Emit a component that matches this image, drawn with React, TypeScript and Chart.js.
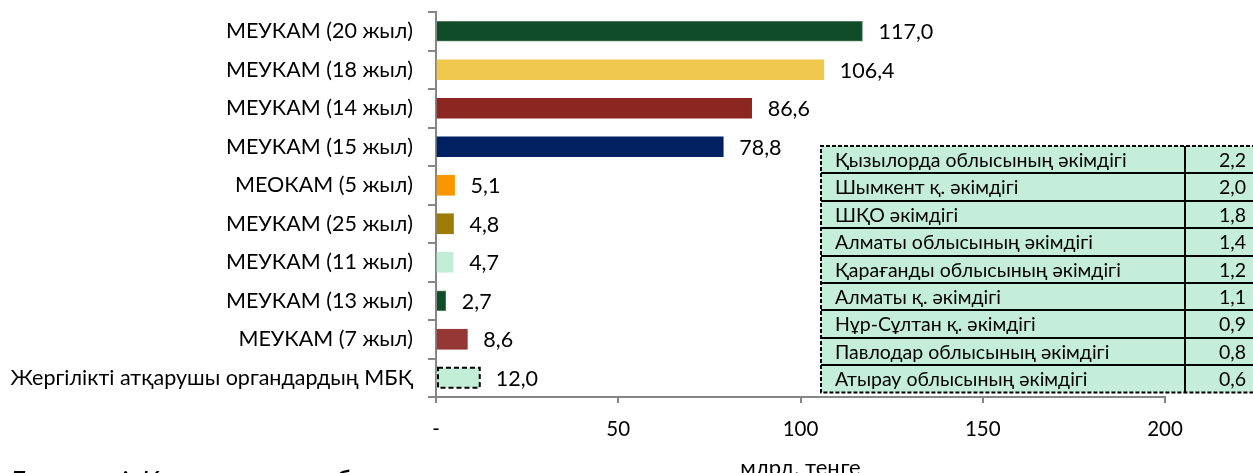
import { useEffect, useRef } from "react";
import { Chart, registerables } from "chart.js";

Chart.register(...registerables);

// Placement volumes by instrument, bln tenge
const categories = [
  "МЕУКАМ (20 жыл)",
  "МЕУКАМ (18 жыл)",
  "МЕУКАМ (14 жыл)",
  "МЕУКАМ (15 жыл)",
  "МЕОКАМ (5 жыл)",
  "МЕУКАМ (25 жыл)",
  "МЕУКАМ (11 жыл)",
  "МЕУКАМ (13 жыл)",
  "МЕУКАМ (7 жыл)",
  "Жергілікті атқарушы органдардың МБҚ",
];
const volumes = [117.0, 106.4, 86.6, 78.8, 5.1, 4.8, 4.7, 2.7, 8.6, 12.0];
const barColors = [
  "#0f4c27",
  "#f0c84e",
  "#8b2621",
  "#00205f",
  "#f99600",
  "#9c7b06",
  "#c2eed8",
  "#0f4c27",
  "#953735",
  "#c2eed8",
];
// the local-authority bar is broken down in the inset table
const dashedBarIndex = 9;

const xTickValues = [0, 50, 100, 150, 200];
const xTickLabels = ["-", "50", "100", "150", "200"];
const axisTitle = "млрд. теңге";
const sourceNote = "Дереккөзі: Қазақстан қор биржасы";

// Breakdown of local executive bodies' bonds
const issuerNames = [
  "Қызылорда облысының әкімдігі",
  "Шымкент қ. әкімдігі",
  "ШҚО әкімдігі",
  "Алматы облысының әкімдігі",
  "Қарағанды облысының әкімдігі",
  "Алматы қ. әкімдігі",
  "Нұр-Сұлтан қ. әкімдігі",
  "Павлодар облысының әкімдігі",
  "Атырау облысының әкімдігі",
];
const issuerValues = [2.2, 2.0, 1.8, 1.4, 1.2, 1.1, 0.9, 0.8, 0.6];

const FONT = "Lato, 'Noto Sans', sans-serif";
const fmt = (v: number) => v.toFixed(1).replace(".", ",");

const overlayPlugin = {
  id: "overlay",
  afterDatasetsDraw(chart: any) {
    const ctx = chart.ctx as CanvasRenderingContext2D;
    const meta = chart.getDatasetMeta(0);
    ctx.save();
    meta.data.forEach((el: any, i: number) => {
      const { x, y, base, height } = el.getProps(["x", "y", "base", "height"], true);
      if (i === dashedBarIndex) {
        ctx.setLineDash([5, 3]);
        ctx.lineWidth = 2;
        ctx.strokeStyle = "#000";
        ctx.strokeRect(base + 1, y - height / 2, x - base - 1, height);
        ctx.setLineDash([]);
      }
      ctx.fillStyle = "#000";
      ctx.font = `21.5px ${FONT}`;
      ctx.textAlign = "left";
      ctx.textBaseline = "middle";
      ctx.fillText(fmt(volumes[i]), x + 16, y + 1);
    });
    ctx.restore();
  },
  afterDraw(chart: any) {
    const ctx = chart.ctx as CanvasRenderingContext2D;
    ctx.save();

    // inset table
    const tx = 821;
    const ty = 146;
    const rowH = 27.4;
    const colX = 1185;
    const tRight = 1262;
    const tBottom = ty + rowH * issuerNames.length;
    ctx.fillStyle = "#c4eed9";
    ctx.fillRect(tx, ty, tRight - tx, tBottom - ty);

    ctx.strokeStyle = "#000";
    ctx.lineWidth = 2;
    ctx.beginPath();
    for (let i = 1; i < issuerNames.length; i++) {
      const yy = Math.round(ty + i * rowH);
      ctx.moveTo(tx, yy);
      ctx.lineTo(tRight, yy);
    }
    ctx.moveTo(colX, ty);
    ctx.lineTo(colX, tBottom);
    ctx.stroke();

    ctx.setLineDash([4, 2]);
    ctx.beginPath();
    ctx.moveTo(tRight, ty);
    ctx.lineTo(tx, ty);
    ctx.lineTo(tx, tBottom);
    ctx.lineTo(tRight, tBottom);
    ctx.stroke();
    ctx.setLineDash([]);

    ctx.fillStyle = "#000";
    ctx.font = `19.5px ${FONT}`;
    ctx.textBaseline = "middle";
    issuerNames.forEach((name, i) => {
      const cy = ty + rowH * (i + 0.5) + 1;
      ctx.textAlign = "left";
      ctx.fillText(name, tx + 14, cy);
      ctx.textAlign = "right";
      ctx.fillText(fmt(issuerValues[i]), 1246, cy);
    });

    // source note
    ctx.font = `italic 28px ${FONT}`;
    ctx.textAlign = "left";
    ctx.textBaseline = "alphabetic";
    ctx.fillText(sourceNote, 7, 492);
    ctx.restore();
  },
};

export default function App() {
  const canvasRef = useRef<HTMLCanvasElement | null>(null);

  useEffect(() => {
    if (!canvasRef.current) return;
    const chart = new Chart(canvasRef.current, {
      type: "bar",
      data: {
        labels: categories,
        datasets: [
          {
            data: volumes,
            backgroundColor: barColors,
            borderColor: barColors.map((c, i) =>
              i === 0 || i === 7 ? "#4f7d5e" : c
            ),
            borderWidth: barColors.map((_, i) => (i === 0 || i === 7 ? 1 : 0)),
            barThickness: 20,
          },
        ],
      },
      plugins: [overlayPlugin],
      options: {
        indexAxis: "y",
        animation: false,
        responsive: true,
        maintainAspectRatio: false,
        layout: { padding: { top: 12, right: 88, left: 0, bottom: 0 } },
        plugins: {
          legend: { display: false },
          tooltip: { enabled: false },
        },
        scales: {
          x: {
            type: "linear",
            min: 0,
            max: 200,
            afterFit: (scale: any) => {
              scale.height = 76;
              scale.paddingLeft = 0;
              scale.paddingRight = 0;
            },
            afterBuildTicks: (scale: any) => {
              scale.ticks = xTickValues.map((v) => ({ value: v }));
            },
            ticks: {
              color: "#000",
              font: { family: FONT, size: 20.5 },
              padding: 14,
              callback: (value: any) => {
                const idx = xTickValues.indexOf(Number(value));
                return idx >= 0 ? xTickLabels[idx] : "";
              },
            },
            grid: {
              drawOnChartArea: false,
              drawTicks: true,
              tickLength: 6,
              color: "#868686",
              lineWidth: 2,
            },
            border: { display: true, color: "#868686", width: 2 },
            title: {
              display: true,
              text: axisTitle,
              color: "#000",
              font: { family: FONT, size: 22 },
              padding: { top: 0, bottom: -8.5 },
            },
          },
          y: {
            type: "category",
            afterFit: (scale: any) => {
              scale.width = 436;
              scale.paddingTop = 0;
              scale.paddingBottom = 0;
            },
            ticks: {
              color: "#000",
              font: { family: FONT, size: 21.5 },
              padding: 15,
              autoSkip: false,
            },
            grid: {
              drawOnChartArea: false,
              drawTicks: true,
              tickLength: 8,
              offset: true,
              color: "#868686",
              lineWidth: 2,
            },
            border: { display: true, color: "#868686", width: 2 },
          },
        },
      },
    });
    return () => chart.destroy();
  }, []);

  return (
    <div style={{ position: "absolute", left: 0, top: 0, width: 1253, height: 473 }}>
      <canvas ref={canvasRef} />
    </div>
  );
}
